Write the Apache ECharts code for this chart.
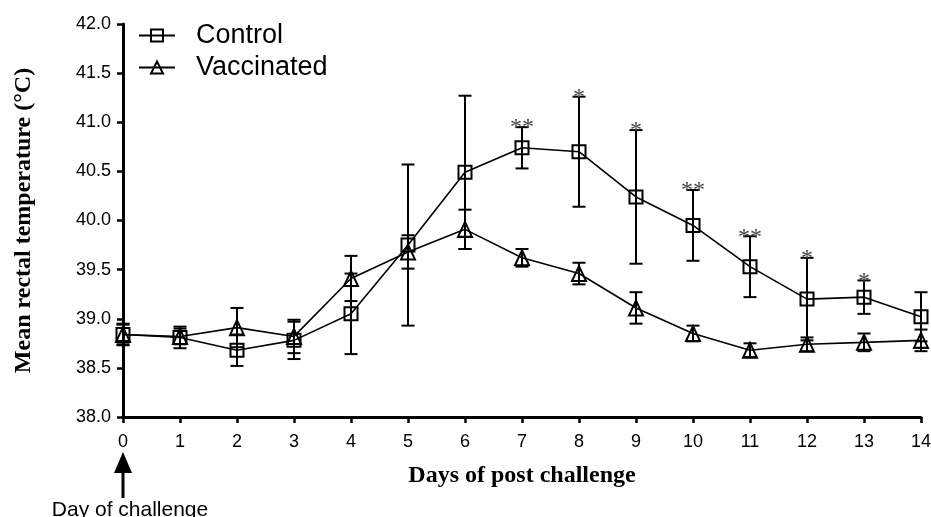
<!DOCTYPE html>
<html>
<head>
<meta charset="utf-8">
<script src="https://cdn.jsdelivr.net/npm/echarts@6/dist/echarts.min.js"></script>
<style>
html,body{margin:0;padding:0;background:#fff;}
#chart{width:931px;height:517px;}
</style>
</head>
<body>
<div id="chart"></div>
<script>
const days = [0,1,2,3,4,5,6,7,8,9,10,11,12,13,14];
const controlMean = [38.84,38.81,38.68,38.78,39.05,39.75,40.49,40.74,40.70,40.24,39.95,39.53,39.20,39.22,39.02];
const controlErr  = [0.11,0.11,0.16,0.19,0.41,0.82,0.78,0.21,0.56,0.68,0.36,0.31,0.42,0.17,0.25];
const vaccMean    = [38.84,38.82,38.91,38.82,39.41,39.68,39.91,39.62,39.46,39.11,38.85,38.68,38.74,38.76,38.78];
const vaccErr     = [0.10,0.08,0.20,0.17,0.23,0.17,0.20,0.09,0.11,0.16,0.08,0.07,0.07,0.09,0.11];
const significance = ['','','','','','','','**','*','*','**','**','*','*',''];
const yTicks = ['38.0','38.5','39.0','39.5','40.0','40.5','41.0','41.5','42.0'];

const chart = echarts.init(document.getElementById('chart'), null, {renderer:'canvas'});

function errSeries(name, mean, err, stars){
  return {
    type:'custom', name: name + ' err', z: 5, silent:true,
    data: days.map((d,i)=>[d, mean[i]-err[i], mean[i]+err[i]]),
    encode:{x:0, y:[1,2]},
    renderItem: function(params, api){
      const x = api.value(0);
      const lo = api.coord([x, api.value(1)]);
      const hi = api.coord([x, api.value(2)]);
      const hw = 6.5;
      const st = {stroke:'#000', lineWidth:2};
      const children = [
        {type:'line', shape:{x1:lo[0],y1:lo[1],x2:hi[0],y2:hi[1]}, style:st},
        {type:'line', shape:{x1:hi[0]-hw,y1:hi[1],x2:hi[0]+hw,y2:hi[1]}, style:st},
        {type:'line', shape:{x1:lo[0]-hw,y1:lo[1],x2:lo[0]+hw,y2:lo[1]}, style:st}
      ];
      if (stars && stars[params.dataIndex]) {
        children.push({type:'text', style:{text:stars[params.dataIndex], x:hi[0], y:hi[1]+1,
          align:'center', verticalAlign:'middle', fill:'#444',
          font:'24px "Liberation Serif", "Times New Roman", serif'}});
      }
      return {type:'group', children: children};
    }
  };
}

const option = {
  animation:false,
  backgroundColor:'#fff',
  grid:{left:123, right:10, top:24, bottom:100, containLabel:false, outerBoundsMode:'none'},
  legend:{
    left:133, top:17, orient:'vertical', itemWidth:36, itemHeight:15, itemGap:5,
    data:['Control','Vaccinated'],
    textStyle:{fontFamily:'"Liberation Sans", Arial, sans-serif', fontSize:27, color:'#000', padding:[0,0,0,16], lineHeight:26}
  },
  xAxis:{
    type:'value', min:0, max:14, interval:1,
    name:'Days of post challenge', nameLocation:'middle', nameGap:47,
    nameTextStyle:{fontFamily:'"Liberation Serif", "Times New Roman", serif', fontWeight:'bold', fontSize:24, color:'#000'},
    axisLine:{show:true, lineStyle:{color:'#000', width:3}},
    axisTick:{show:true, length:6, lineStyle:{color:'#000', width:2.5}},
    axisLabel:{color:'#000', fontSize:18, margin:16, fontFamily:'"Liberation Sans", Arial, sans-serif'},
    splitLine:{show:false}
  },
  yAxis:{
    type:'value', min:38, max:42, interval:0.5,
    name:'Mean rectal temperature (\u00B0C)', nameLocation:'middle', nameGap:87, nameRotate:90,
    nameTextStyle:{fontFamily:'"Liberation Serif", "Times New Roman", serif', fontWeight:'bold', fontSize:24, color:'#000'},
    axisLine:{show:true, lineStyle:{color:'#000', width:3}},
    axisTick:{show:true, length:6, lineStyle:{color:'#000', width:2.5}},
    axisLabel:{color:'#000', fontSize:18, margin:12, fontFamily:'"Liberation Sans", Arial, sans-serif',
      formatter:function(v){ const i = Math.round((v-38)/0.5); return yTicks[i] !== undefined ? yTicks[i] : v.toFixed(1); }},
    splitLine:{show:false}
  },
  series:[
    {
      name:'Control', type:'line', z:3,
      data: days.map((d,i)=>[d, controlMean[i]]),
      symbol:'rect', symbolSize:13,
      lineStyle:{color:'#000', width:1.6},
      itemStyle:{color:'rgba(255,255,255,0)', borderColor:'#000', borderWidth:2}
    },
    {
      name:'Vaccinated', type:'line', z:3,
      data: days.map((d,i)=>[d, vaccMean[i]]),
      symbol:'triangle', symbolSize:[14,15],
      lineStyle:{color:'#000', width:1.6},
      itemStyle:{color:'rgba(255,255,255,0)', borderColor:'#000', borderWidth:2}
    },
    errSeries('Control', controlMean, controlErr, significance),
    errSeries('Vaccinated', vaccMean, vaccErr, null)
  ]
};
chart.setOption(option);

const base = chart.convertToPixel({gridIndex:0}, [0, 38]);
const ax = base[0];
chart.setOption({
  graphic:[
    {type:'polygon', shape:{points:[[ax, base[1]+35],[ax-9, base[1]+56],[ax+9, base[1]+56]]}, style:{fill:'#000'}},
    {type:'rect', shape:{x:ax-1.5, y:base[1]+55, width:3, height:26}, style:{fill:'#000'}},
    {type:'text', x:ax+7, y:base[1]+83, style:{text:'Day of challenge', align:'center', verticalAlign:'top',
      font:'21px "Liberation Sans", Arial, sans-serif', fill:'#000'}}
  ]
});
</script>
</body>
</html>
